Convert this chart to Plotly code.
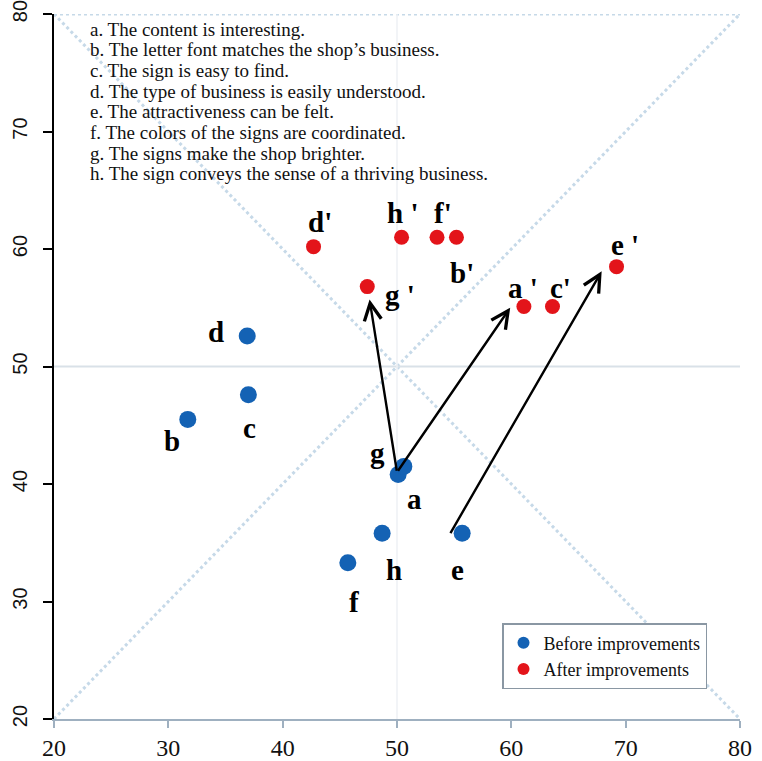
import plotly.graph_objects as go

# ---------------- data ----------------
items = ["a", "b", "c", "d", "e", "f", "g", "h"]
before_x = [50.1, 31.7, 37.0, 36.9, 55.7, 45.7, 50.6, 48.7]
before_y = [40.8, 45.5, 47.6, 52.6, 35.8, 33.3, 41.5, 35.8]
after_x = [61.1, 55.2, 63.6, 42.7, 69.2, 53.5, 47.4, 50.4]
after_y = [55.1, 61.0, 55.1, 60.2, 58.5, 61.0, 56.8, 61.0]

before_labels = ["a", "b", "c", "d", "e", "f", "g", "h"]
before_lab_x = [51.5, 30.3, 37.1, 34.2, 55.3, 46.2, 48.3, 49.7]
before_lab_y = [38.7, 43.7, 44.8, 52.9, 32.7, 30.0, 42.6, 32.7]

after_labels = ["a '", "b'", "c'", "d'", "e '", "f'", "g '", "h '"]
after_lab_x = [61.0, 55.7, 64.3, 43.3, 69.9, 54.0, 50.3, 50.5]
after_lab_y = [56.7, 58.0, 56.7, 62.3, 60.3, 63.1, 56.1, 63.1]

arrow_start_x = [50.0, 50.0, 54.6]
arrow_start_y = [41.0, 41.0, 35.7]
arrow_end_x = [47.6, 59.9, 67.9]
arrow_end_y = [55.7, 55.0, 58.1]

descriptions = [
    "a. The content is interesting.",
    "b. The letter font matches the shop\u2019s business.",
    "c. The sign is easy to find.",
    "d. The type of business is easily understood.",
    "e. The attractiveness can be felt.",
    "f. The colors of the signs are coordinated.",
    "g. The signs make the shop brighter.",
    "h. The sign conveys the sense of a thriving business.",
]

x_ticks = [20, 30, 40, 50, 60, 70, 80]
y_ticks = [20, 30, 40, 50, 60, 70, 80]
axis_min, axis_max, axis_mid = 20, 80, 50

SERIF = "Liberation Serif, Times New Roman, serif"
SANS = "Liberation Sans, Arial, sans-serif"
BLUE = "#1462b4"
RED = "#e3141a"
DOT = "#c6d9e8"

W, H = 762, 761
ML, MR, MT, MB = 54, 22, 14, 42
PW, PH = W - ML - MR, H - MT - MB

fig = go.Figure()

fig.add_trace(go.Scatter(
    x=before_x, y=before_y, mode="markers", name="Before improvements",
    marker=dict(color=BLUE, size=17, line=dict(width=0)),
))
fig.add_trace(go.Scatter(
    x=after_x, y=after_y, mode="markers", name="After improvements",
    marker=dict(color=RED, size=15, line=dict(width=0)),
))

shapes = []
for (x0, y0, x1, y1) in [
    (axis_min, axis_min, axis_max, axis_max),
    (axis_min, axis_max, axis_max, axis_min),
    (axis_min, axis_max, axis_max, axis_max),
]:
    shapes.append(dict(type="line", xref="x", yref="y", x0=x0, y0=y0, x1=x1, y1=y1,
                       line=dict(color=DOT, width=3, dash="dot"), layer="below"))
shapes.append(dict(type="line", xref="x", yref="y", x0=axis_min, x1=axis_max,
                   y0=axis_mid, y1=axis_mid, line=dict(color="#d9e1e8", width=2), layer="below"))
shapes.append(dict(type="line", xref="x", yref="y", x0=axis_mid, x1=axis_mid,
                   y0=axis_min, y1=axis_max, line=dict(color="#eef1f4", width=1.5), layer="below"))

annotations = []
for t, x, y in zip(before_labels, before_lab_x, before_lab_y):
    annotations.append(dict(x=x, y=y, xref="x", yref="y", text="<b>%s</b>" % t,
                            showarrow=False, font=dict(family=SERIF, size=29, color="black"),
                            xanchor="center", yanchor="middle"))
for t, x, y in zip(after_labels, after_lab_x, after_lab_y):
    annotations.append(dict(x=x, y=y, xref="x", yref="y", text="<b>%s</b>" % t,
                            showarrow=False, font=dict(family=SERIF, size=29, color="black"),
                            xanchor="center", yanchor="middle"))
for sx, sy, ex, ey in zip(arrow_start_x, arrow_start_y, arrow_end_x, arrow_end_y):
    annotations.append(dict(x=ex, y=ey, ax=sx, ay=sy, xref="x", yref="y", axref="x", ayref="y",
                            text="", showarrow=True, arrowhead=5, arrowsize=1.4,
                            arrowwidth=2.4, arrowcolor="black", standoff=0))
line_step = 20.7 / PH
for i, d in enumerate(descriptions):
    annotations.append(dict(x=34.0 / PW, y=(PH - 15.0) / PH - i * line_step,
                            xref="paper", yref="paper",
                            text=d, showarrow=False, xanchor="left", yanchor="middle",
                            font=dict(family=SERIF, size=19, color="#111111")))

fig.update_layout(
    width=W, height=H,
    margin=dict(l=ML, r=MR, t=MT, b=MB),
    paper_bgcolor="white", plot_bgcolor="white",
    shapes=shapes, annotations=annotations,
    legend=dict(x=448.0 / PW, y=96.0 / PH, xanchor="left", yanchor="top",
                bordercolor="#8a97a3", borderwidth=1.5, bgcolor="white",
                font=dict(family=SERIF, size=18, color="#111111"),
                tracegroupgap=0, itemsizing="constant"),
    xaxis=dict(range=[axis_min, axis_max], tickvals=x_ticks, showgrid=False, zeroline=False,
               showline=True, linecolor="#9fb0c0", linewidth=1.5, ticks="outside",
               ticklen=7, tickwidth=1.5, tickcolor="#9fb0c0", automargin=False,
               ticklabeloverflow="allow", ticklabelstandoff=-1,
               tickfont=dict(family=SERIF, size=24, color="#111111")),
    yaxis=dict(range=[axis_min, axis_max], tickvals=y_ticks, showgrid=False, zeroline=False,
               showline=True, linecolor="black", linewidth=1.5, ticks="outside",
               ticklen=9, tickwidth=1.5, tickcolor="black", tickangle=-90,
               automargin=False, ticklabeloverflow="allow", ticklabelstandoff=8,
               tickfont=dict(family=SANS, size=20, color="#111111")),
)

fig.write_html(
    "out.html",
    config={"displayModeBar": False},
    post_script="document.body.style.margin='0';document.body.style.overflow='hidden';",
)
